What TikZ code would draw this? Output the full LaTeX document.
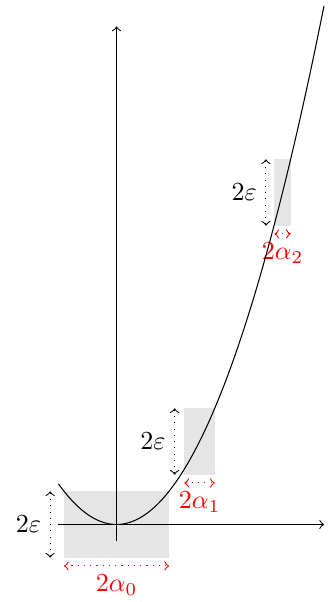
\documentclass[tikz,border=0pt]{standalone}
\usepackage{amsmath}
\usepackage{amssymb}
\usetikzlibrary{arrows}
\tikzset{>=to}

\begin{document}
\begin{tikzpicture}[x=1.12cm, y=1.12cm]
  \tikzstyle{band}=[fill=gray!20]
  \tikzstyle{epsarrow}=[<->, dotted]
  \tikzstyle{alphaarrow}=[<->, dotted, red]
  \useasboundingbox (-1.404,-0.934) rectangle (2.633,6.319);
  % boxes: centre x / half width alpha / x of the epsilon arrow
  \foreach \cx/\a/\ex [count=\i from 0] in {0/0.6325/-0.8, 1/0.1832/0.7, 2/0.0976/1.8} {
    \pgfmathsetmacro{\cy}{\cx*\cx}
    \fill[band] (\cx-\a,\cy-0.4) rectangle (\cx+\a,\cy+0.4);
    \coordinate (Eb\i) at (\ex,\cy-0.4);
    \coordinate (Et\i) at (\ex,\cy+0.4);
    \coordinate (Al\i) at (\cx-\a,\cy-0.5);
    \coordinate (Ar\i) at (\cx+\a,\cy-0.5);
    \draw[epsarrow] (Eb\i) -- (Et\i) node[midway, left, black] (eps\i) {$2\varepsilon$};
    \draw[alphaarrow] (Al\i) -- (Ar\i) node[midway, below] (alpha\i) {$2\alpha_{\i}$};
  }
  % axes
  \coordinate (xl) at (-0.7,0);
  \coordinate (xr) at (2.5,0);
  \coordinate (yb) at (0,-0.2);
  \coordinate (yt) at (0,6);
  \draw[->] (xl) -- (xr);
  \draw[->] (yb) -- (yt);
  % curve
  \draw[domain=-0.7:2.5, samples=120] plot (\x, {\x*\x});
\end{tikzpicture}
\end{document}
